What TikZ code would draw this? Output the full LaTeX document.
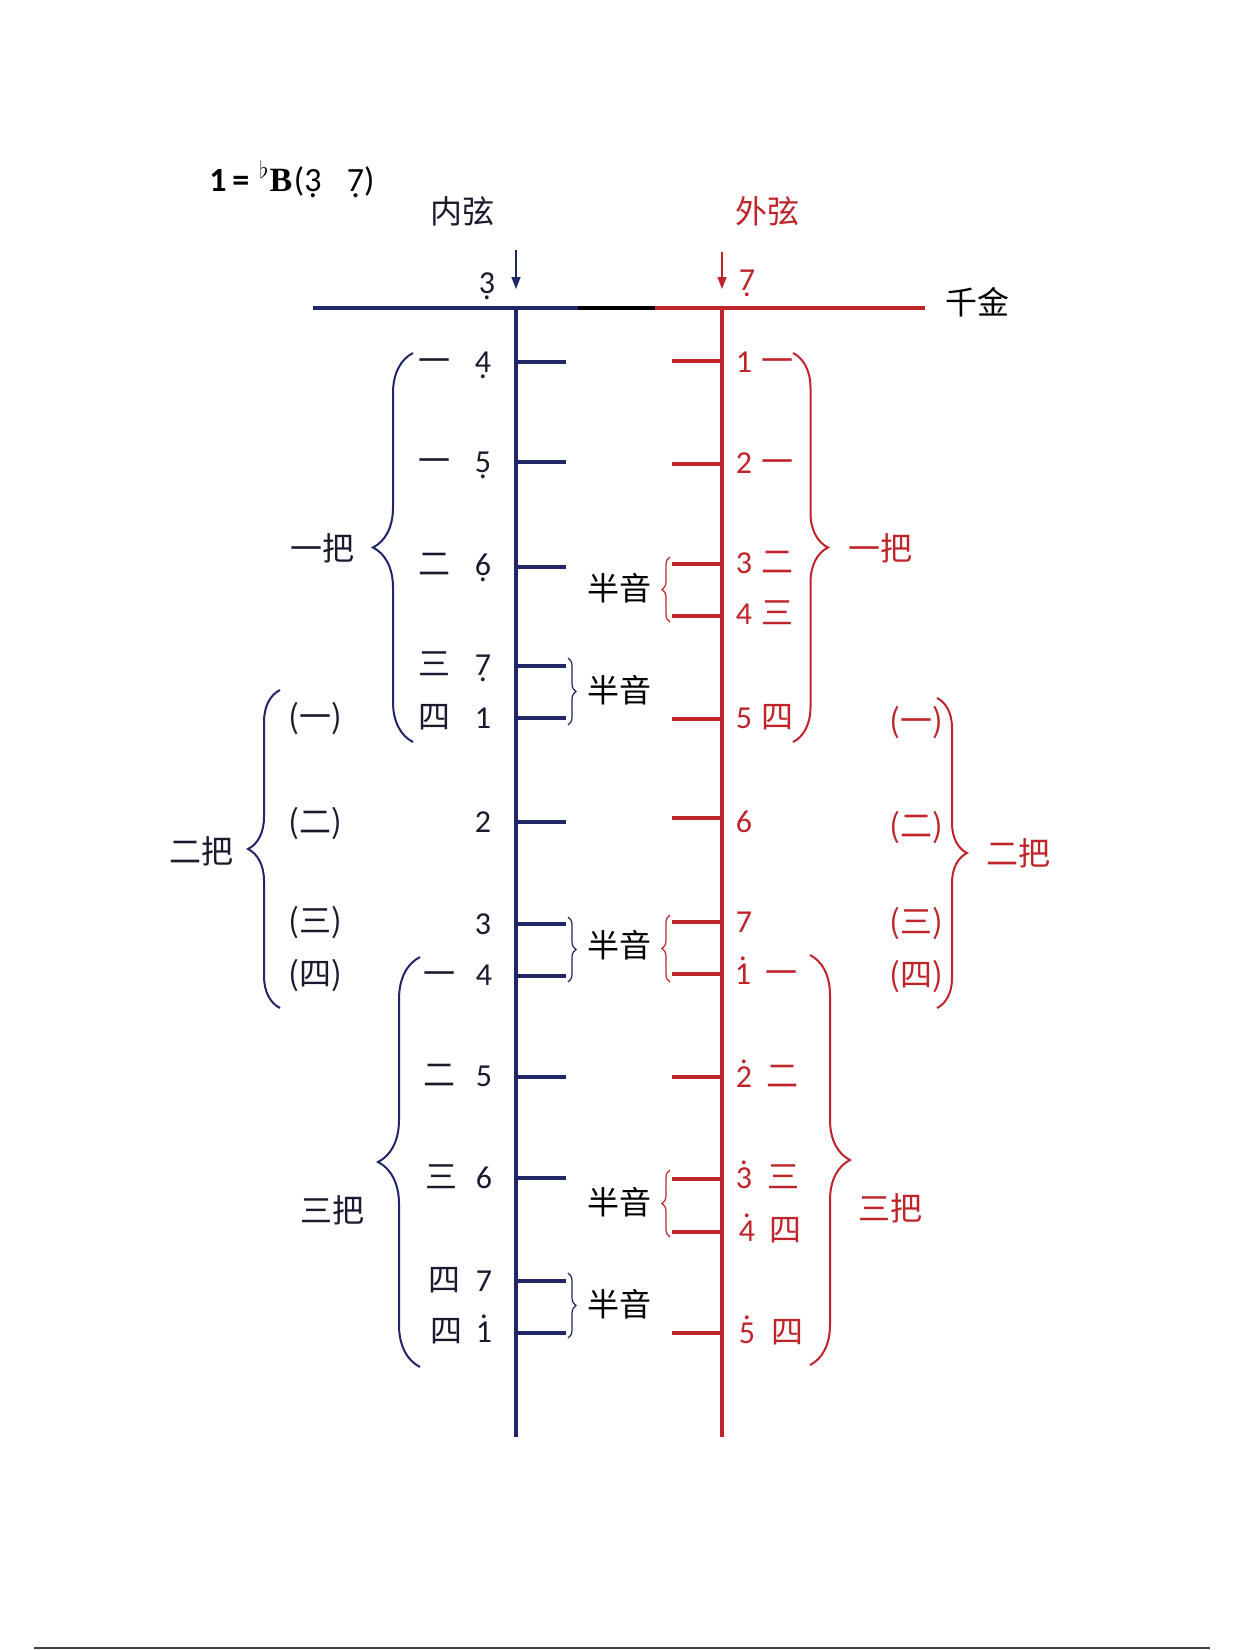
\documentclass[tikz,border=0pt]{standalone}
\usepackage{fontspec}
\setmainfont{Carlito}
\newfontfamily\cjk{Noto Sans CJK SC}
\newfontfamily\serifbold{Liberation Serif}
\usetikzlibrary{arrows.meta,decorations.pathreplacing}

\definecolor{navy}{RGB}{32,38,102}
\definecolor{hongse}{RGB}{190,36,42}
\definecolor{ink}{RGB}{26,26,46}

\newcommand{\lowoct}[1]{\vtop{\offinterlineskip\halign{\hfil##\hfil\cr #1\cr\noalign{\kern1.3pt}.\cr}}}
\newcommand{\highoct}[1]{\vbox{\offinterlineskip\halign{\hfil##\hfil\cr .\cr\noalign{\kern1.2pt}#1\cr}}}

\begin{document}
\begin{tikzpicture}[x=0.5pt,y=-0.5pt,
    lbl/.style={inner sep=0pt, text height=12pt, text depth=2pt, font=\fontsize{16}{18}\selectfont},
    hz/.style={lbl, font=\fontsize{16}{18}\selectfont\cjk},
    fret/.style={line width=2pt},
    xian/.style={line width=2.1pt},
    bigbrace/.style={decorate, decoration={brace, amplitude=#1}, line width=1pt},
    banyin/.style={decorate, decoration={brace, amplitude=4pt}, line width=0.6pt}]
    \useasboundingbox (0,0) rectangle (1237,1650);

    \node[lbl, anchor=west, font=\fontsize{17}{19}\selectfont] (key) at (209,181) {\textbf{1\,=}\hspace{0.3em}$^{\flat}${\serifbold\bfseries B}\hspace{0.05em}(\lowoct{3}\hspace{0.75em}\lowoct{7})};
    \node[hz, ink] (neixian) at (462,213) {内弦};
    \node[hz, hongse] (waixian) at (767,213) {外弦};
    \node[hz] (qianjin) at (977,304) {千金};

    % qianjin and the two strings
    \draw[navy, line width=2pt] (313,308) -- (578,308);
    \draw[black, line width=2pt] (578,308) -- (655,308);
    \draw[hongse, line width=2pt] (655,308) -- (925,308);
    \coordinate (nei top) at (516,308);
    \coordinate (nei end) at (516,1437);
    \coordinate (wai top) at (722,308);
    \coordinate (wai end) at (722,1437);
    \draw[navy, xian] (nei top) -- (nei end);
    \draw[hongse, xian] (wai top) -- (wai end);

    \node[lbl, ink] (nei open) at (487,283) {\lowoct{3}};
    \node[lbl, hongse] (wai open) at (747,280) {\lowoct{7}};
    \draw[navy, line width=0.7pt, -{Triangle[length=6pt,width=4.5pt]}] (516,250) -- (nei top |- 0,289);
    \draw[hongse, line width=0.7pt, -{Triangle[length=6pt,width=4.5pt]}] (722,252) -- (wai top |- 0,289);

    % frets
    \foreach \y [count=\i] in {362,462,567,666,718,822,924,976,1077,1178,1281,1333}
        \draw[navy, fret] (516,\y) coordinate (nf\i) -- (566,\y);
    \foreach \y [count=\i] in {361,464,564,616,719,818,922,974,1077,1179,1232,1333}
        \draw[hongse, fret] (722,\y) coordinate (wf\i) -- (672,\y);

    % inner string, first position
    \foreach \y/\f/\n [count=\i] in {362/一/\lowoct{4}, 462/一/\lowoct{5}, 565/二/\lowoct{6}, 665/三/\lowoct{7}, 718/四/1}{
        \node[hz, ink] (nyf\i) at (434,\y) {\f};
        \node[lbl, ink] (nyn\i) at (483,\y) {\n};
    }
    \node[lbl, ink] (nn2) at (483,822) {2};
    \node[lbl, ink] (nn3) at (483,924) {3};
    % inner string, third position
    \foreach \y/\x/\f/\n [count=\i] in {975/439/一/4, 1076/439/二/5, 1178/441/三/6, 1281/444/四/7, 1332/446/四/\highoct{1}}{
        \node[hz, ink] (nsf\i) at (\x,\y) {\f};
        \node[lbl, ink] (nsn\i) at (484,\y) {\n};
    }

    % outer string, first position
    \foreach \y/\n/\f [count=\i] in {362/1/一, 463/2/一, 563/3/二, 614/4/三, 718/5/四}{
        \node[lbl, hongse] (wyn\i) at (744,\y) {\n};
        \node[hz, hongse] (wyf\i) at (777,\y) {\f};
    }
    \node[lbl, hongse] (wn6) at (744,822) {6};
    \node[lbl, hongse] (wn7) at (744,922) {7};
    % outer string, third position
    \foreach \y/\xa/\n/\xb/\f [count=\i] in {974/743/\highoct{1}/781/一, 1077/744/\highoct{2}/782/二, 1178/744/\highoct{3}/783/三, 1231/747/\highoct{4}/785/四, 1333/747/\highoct{5}/787/四}{
        \node[lbl, hongse] (wsn\i) at (\xa,\y) {\n};
        \node[hz, hongse] (wsf\i) at (\xb,\y) {\f};
    }

    % second position
    \foreach \y/\f [count=\i] in {718/一, 823/二, 922/三, 975/四}
        \node[hz, ink] (nef\i) at (315,\y) {(\f)};
    \foreach \y/\f [count=\i] in {722/一, 827/二, 923/三, 976/四}
        \node[hz, hongse] (wef\i) at (916,\y) {(\f)};

    % positions
    \draw[navy, bigbrace=20pt] (413,742) -- (413,353);
    \node[hz, ink] (nei yiba) at (322,550) {一把};
    \draw[navy, bigbrace=16pt] (280,1008) -- (280,690);
    \node[hz, ink] (nei erba) at (201,853) {二把};
    \draw[navy, bigbrace=21pt] (420,1367) -- (420,957);
    \node[hz, ink] (nei sanba) at (332,1212) {三把};
    \draw[hongse, bigbrace=17.5pt] (793,353) -- (793,742);
    \node[hz, hongse] (wai yiba) at (880,550) {一把};
    \draw[hongse, bigbrace=15pt] (937,698) -- (937,1008);
    \node[hz, hongse] (wai erba) at (1018,855) {二把};
    \draw[hongse, bigbrace=20pt] (810,955) -- (810,1365);
    \node[hz, hongse] (wai sanba) at (890,1210) {三把};

    % semitones
    \draw[hongse, banyin] (670,622) -- (670,557);
    \draw[navy, banyin] (568,658) -- (568,725);
    \draw[navy, banyin] (568,917) -- (568,982);
    \draw[hongse, banyin] (670,982) -- (670,915);
    \draw[hongse, banyin] (670,1237) -- (670,1170);
    \draw[navy, banyin] (568,1273) -- (568,1338);
    \foreach \y [count=\i] in {590,692,947,1204,1306}
        \node[hz] (banyin\i) at (619,\y) {半音};

    \draw[black!75, line width=1pt] (34,1648) -- (1210,1648);
\end{tikzpicture}
\end{document}
